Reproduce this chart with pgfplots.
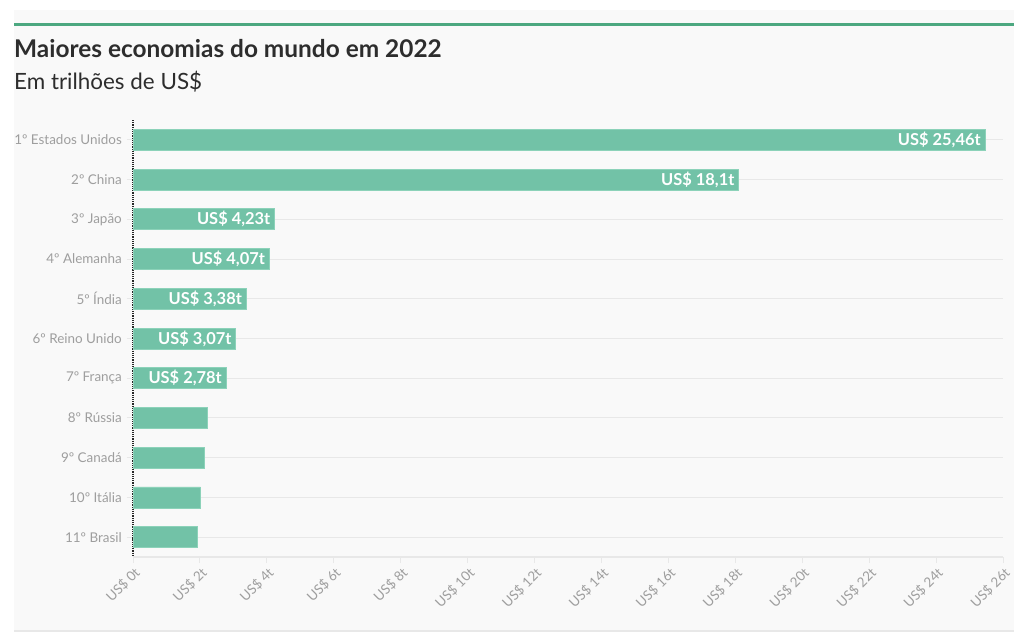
\documentclass[border=0pt]{standalone}
\usepackage{pgfplots}
\pgfplotsset{compat=1.18}
\usepackage{fontspec}
\setmainfont{Lato}
\definecolor{barcol}{RGB}{114,194,167}
\definecolor{barborder}{RGB}{140,210,185}
\definecolor{bgcol}{RGB}{249,249,249}
\definecolor{topline}{RGB}{76,168,128}
\definecolor{titlecol}{RGB}{45,45,45}
\definecolor{labgray}{RGB}{158,158,158}
\definecolor{gridgray}{RGB}{232,232,232}
\begin{document}
\begin{tikzpicture}
\useasboundingbox (0,0) rectangle (1024bp,-637bp);
\fill[white] (0,0) rectangle (1024bp,-637bp);
\fill[bgcol] (14bp,-10bp) rectangle (1014bp,-631bp);
\draw[gridgray, line width=1.5bp] (14bp,-631bp) -- (1014bp,-631bp);
\draw[topline, line width=3bp] (14bp,-24bp) -- (1014bp,-24bp);
\node[anchor=base west, inner sep=0pt, text=titlecol, font=\fontsize{24.5}{28}\selectfont\bfseries] at (14bp,-57.5bp) {Maiores economias do mundo em 2022};
\node[anchor=base west, inner sep=0pt, text=titlecol, font=\fontsize{22.5}{26}\selectfont] at (14bp,-89.5bp) {Em trilhões de US\$};
\begin{axis}[
  at={(133bp,-557bp)}, anchor=south west,
  scale only axis, width=870bp, height=437bp,
  xmin=0, xmax=26, ymin=0.5, ymax=11.5, y dir=reverse,
  axis x line*=bottom, axis y line*=left,
  x axis line style={draw=gridgray, line width=1.2bp},
  y axis line style={draw=black!85, densely dotted, line width=1.2bp},
  xtick={0,2,...,26},
  xticklabels={US\$ 0t,US\$ 2t,US\$ 4t,US\$ 6t,US\$ 8t,US\$ 10t,US\$ 12t,US\$ 14t,US\$ 16t,US\$ 18t,US\$ 20t,US\$ 22t,US\$ 24t,US\$ 26t},
  ytick={1,...,11},
  yticklabels={{1º Estados Unidos},{2º China},{3º Japão},{4º Alemanha},{5º Índia},{6º Reino Unido},{7º França},{8º Rússia},{9º Canadá},{10º Itália},{11º Brasil}},
  tick align=outside,
  major tick length=6bp,
  xtick style={draw=gridgray, line width=1bp},
  ytick style={draw=gridgray, line width=1bp},
  ymajorgrids, xmajorgrids=false,
  y grid style={draw=gridgray, line width=1bp, solid},
  xticklabel style={rotate=45, anchor=north east, text=labgray, font=\fontsize{13.5}{15}\selectfont, inner sep=2bp},
  yticklabel style={text=labgray, font=\fontsize{13.5}{15}\selectfont, inner sep=5bp},
  clip=false,
]
\addplot[xbar, bar width=21bp, bar shift=0pt, fill=barcol, draw=barborder, line width=0.8bp] coordinates {
  (25.46,1) (18.1,2) (4.23,3) (4.07,4) (3.38,5) (3.07,6) (2.78,7) (2.22,8) (2.14,9) (2.01,10) (1.92,11)
};
\addplot[draw=none, mark=none, nodes near coords, point meta=explicit symbolic,
  every node near coord/.append style={anchor=east, xshift=-4bp, text=white, font=\fontsize{16.5}{18}\selectfont\bfseries, inner sep=0pt}]
  coordinates {
  (25.46,1) [US\$ 25,46t]
  (18.1,2) [US\$ 18,1t]
  (4.23,3) [US\$ 4,23t]
  (4.07,4) [US\$ 4,07t]
  (3.38,5) [US\$ 3,38t]
  (3.07,6) [US\$ 3,07t]
  (2.78,7) [US\$ 2,78t]
};
\end{axis}
\end{tikzpicture}
\end{document}
